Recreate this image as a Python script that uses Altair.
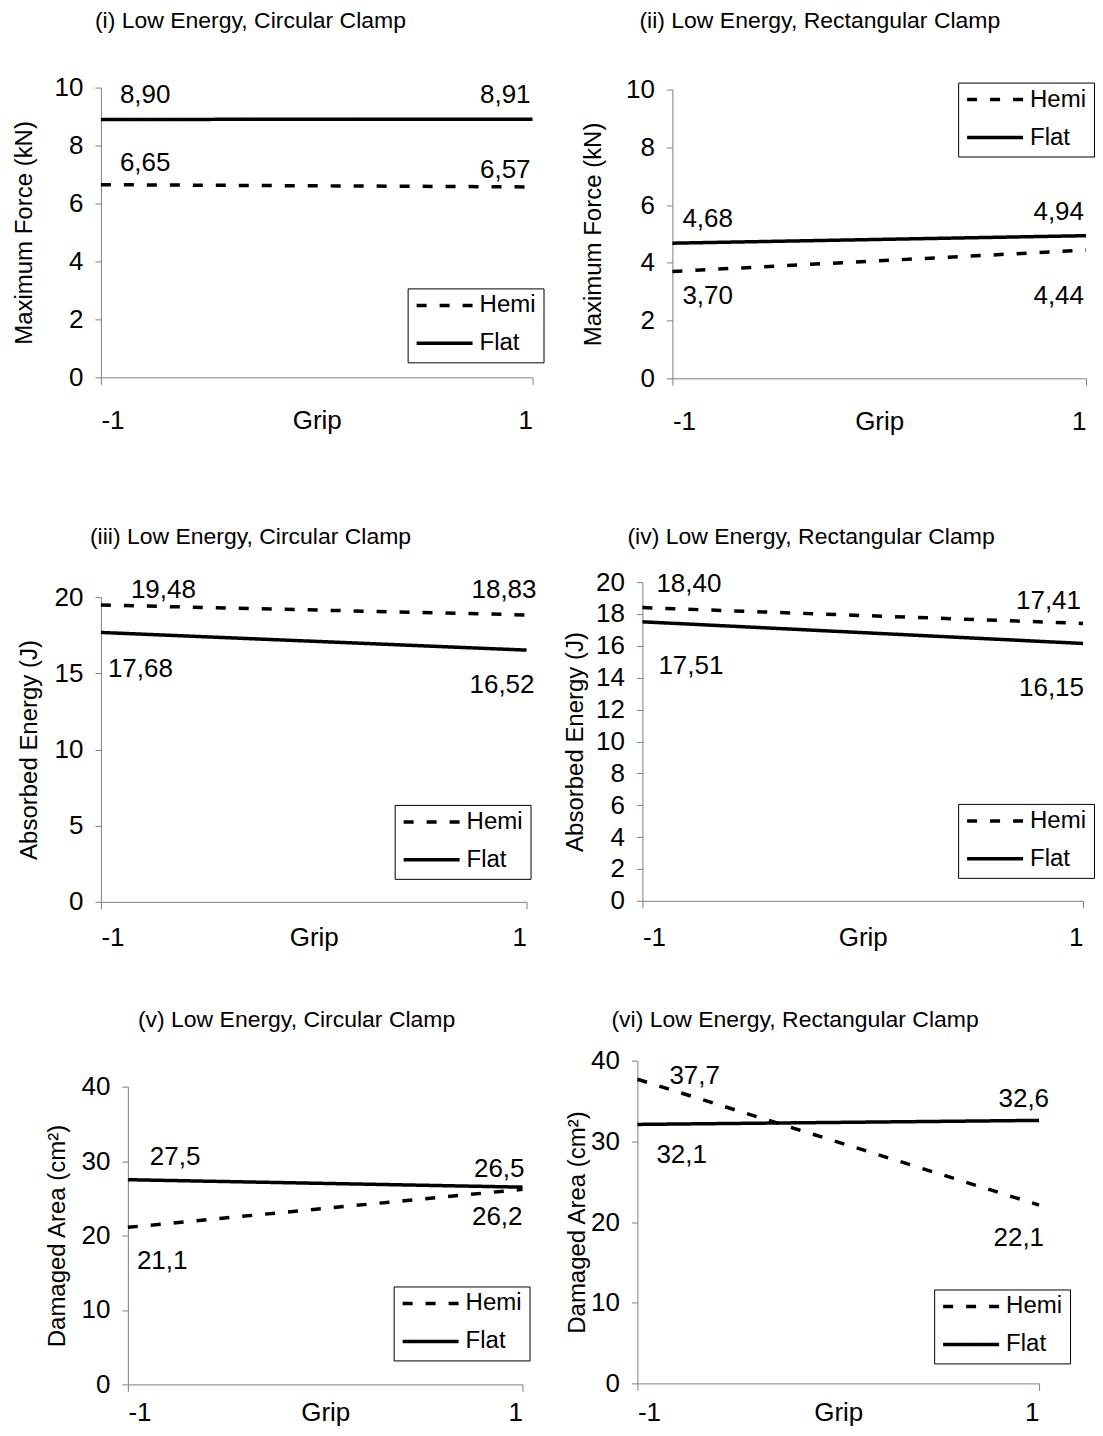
import altair as alt
import pandas as pd

FONT = "Liberation Sans"

grip = [-1, 1]
series_names = ["Hemi", "Flat"]

panel_titles = [
    "(i) Low Energy, Circular Clamp",
    "(ii) Low Energy, Rectangular Clamp",
    "(iii) Low Energy, Circular Clamp",
    "(iv) Low Energy, Rectangular Clamp",
    "(v) Low Energy, Circular Clamp",
    "(vi) Low Energy, Rectangular Clamp",
]
y_titles = [
    "Maximum Force (kN)",
    "Maximum Force (kN)",
    "Absorbed Energy (J)",
    "Absorbed Energy (J)",
    "Damaged Area (cm²)",
    "Damaged Area (cm²)",
]

hemi_values = [
    [6.65, 6.57],
    [3.70, 4.44],
    [19.48, 18.83],
    [18.40, 17.41],
    [21.1, 26.2],
    [37.7, 22.1],
]
flat_values = [
    [8.90, 8.91],
    [4.68, 4.94],
    [17.68, 16.52],
    [17.51, 16.15],
    [27.5, 26.5],
    [32.1, 32.6],
]
label_decimals = [2, 2, 2, 2, 1, 1]
y_max = [10, 10, 20, 20, 40, 40]
y_tick_values = [
    [0, 2, 4, 6, 8, 10],
    [0, 2, 4, 6, 8, 10],
    [0, 5, 10, 15, 20],
    [0, 2, 4, 6, 8, 10, 12, 14, 16, 18, 20],
    [0, 10, 20, 30, 40],
    [0, 10, 20, 30, 40],
]

# ---- layout / style (pixels) ----
# w,h: cell size; x0/xr: plot left/right inside cell; ytop/ybot: plot top/bottom inside cell
layout = [
    dict(w=432, h=336, x0=0, xr=432, ytop=0, ybot=290, ytx=-76, tdx=-6, toff=42, lx=307, ly=201, xl=43),
    dict(w=449, h=336, x0=35, xr=449, ytop=2, ybot=291, ytx=-79, tdx=2, toff=44, lx=321, ly=-5, xl=43),
    dict(w=432, h=320, x0=0, xr=426, ytop=15, ybot=320, ytx=-71, tdx=-11, toff=28, lx=294, ly=223, xl=36),
    dict(w=449, h=320, x0=5, xr=446, ytop=0, ybot=319, ytx=-67, tdx=-10, toff=20, lx=321, ly=222, xl=37),
    dict(w=432, h=324, x0=27, xr=422, ytop=26, ybot=324, ytx=-70, tdx=37, toff=29, lx=293, ly=226, xl=28),
    dict(w=449, h=324, x0=0, xr=402, ytop=0, ybot=323, ytx=-60, tdx=-26, toff=16, lx=297, ly=229, xl=29),
]
# label offsets: (series, grip) -> (dx, dy)
label_offsets = [
    {("Flat", -1): (19, -24), ("Flat", 1): (-2, -24), ("Hemi", -1): (19, -22), ("Hemi", 1): (-2, -17)},
    {("Flat", -1): (10, -24), ("Flat", 1): (-2, -24), ("Hemi", -1): (10, 25), ("Hemi", 1): (-2, 46)},
    {("Hemi", -1): (30, -15), ("Hemi", 1): (10, -25), ("Flat", -1): (7, 37), ("Flat", 1): (8, 35)},
    {("Hemi", -1): (14, -24), ("Hemi", 1): (-2, -22), ("Flat", -1): (16, 44), ("Flat", 1): (1, 45)},
    {("Flat", -1): (22, -23), ("Flat", 1): (2, -18), ("Hemi", -1): (9, 34), ("Hemi", 1): (0, 28)},
    {("Hemi", -1): (32, -3), ("Flat", 1): (10, -21), ("Flat", -1): (19, 31), ("Hemi", 1): (5, 33)},
]


def make_panel(i):
    L = layout[i]
    rows = []
    for s, vals in (("Hemi", hemi_values[i]), ("Flat", flat_values[i])):
        for g, v in zip(grip, vals):
            rows.append({
                "grip": g,
                "value": v,
                "series": s,
                "label": f"{v:.{label_decimals[i]}f}".replace(".", ","),
            })
    df = pd.DataFrame(rows)

    xscale = alt.Scale(domain=[-1, 1], range=[L["x0"], L["xr"]], nice=False, zero=False)
    yscale = alt.Scale(domain=[0, y_max[i]], range=[L["ybot"], L["ytop"]], nice=False)

    x_axis = alt.Axis(
        values=[-1, 1], title="Grip", labelExpr="'' + datum.value",
        offset=L["ybot"] - L["h"],
        tickSize=7, labelPadding=L["xl"] - 7, labelBaseline="middle",
        titleY=L["xl"], titleBaseline="middle", titleFontSize=26,
    )
    y_axis = alt.Axis(
        values=y_tick_values[i], title=y_titles[i], offset=-L["x0"],
        tickSize=6, labelPadding=12, labelOverlap=False,
        titleX=L["ytx"], titleBaseline="middle", titleAngle=270, format="d",
    )
    x_enc = alt.X("grip:Q", scale=xscale, axis=x_axis)
    y_enc = alt.Y("value:Q", scale=yscale, axis=y_axis)

    base = alt.Chart(df)
    line = base.mark_line(color="black", strokeWidth=3.5).encode(
        x=x_enc,
        y=y_enc,
        strokeDash=alt.StrokeDash(
            "series:N",
            scale=alt.Scale(domain=series_names, range=[[10, 13], [1, 0]]),
            legend=alt.Legend(
                title=None, orient="none", legendX=L["lx"], legendY=L["ly"],
                symbolType="stroke", symbolSize=3136, symbolStrokeWidth=3.5,
                symbolStrokeColor="black", strokeColor="black", fillColor="white",
                padding=7, labelFontSize=24, labelFont=FONT, labelColor="black",
                labelOffset=5, rowPadding=14, clipHeight=20,
            ),
        ),
    )

    layers = [line]
    for (s, g), (dx, dy) in label_offsets[i].items():
        t = base.mark_text(
            align="left" if g == -1 else "right", baseline="middle",
            dx=dx, dy=dy, fontSize=26, font=FONT, color="black",
        ).encode(
            x=x_enc,
            y=y_enc,
            text="label:N",
        ).transform_filter(
            (alt.datum.series == s) & (alt.datum.grip == g)
        )
        layers.append(t)

    return alt.layer(*layers).properties(
        width=L["w"], height=L["h"],
        title=alt.TitleParams(
            panel_titles[i], anchor="start", frame="group", dx=L["tdx"],
            offset=L["toff"], fontSize=23, font=FONT, fontWeight="normal", color="black",
        ),
    )


panels = [make_panel(i) for i in range(6)]

chart = alt.concat(
    *panels, columns=2, spacing={"row": 159, "column": 105}, bounds="flush", align="each"
).resolve_scale(
    x="independent", y="independent", strokeDash="independent"
).resolve_legend(
    strokeDash="independent"
).properties(
    padding={"left": 5, "top": 1, "right": 0, "bottom": 0}
).configure_view(strokeWidth=0).configure_axis(
    grid=False, domainColor="#808080", tickColor="#808080", domainWidth=1, tickWidth=1,
    labelFont=FONT, titleFont=FONT, labelFontSize=26, titleFontSize=24,
    labelColor="black", titleColor="black", titleFontWeight="normal", labelOverlap=False,
)

chart.save("out.html", embed_options={"renderer": "svg", "actions": False})
